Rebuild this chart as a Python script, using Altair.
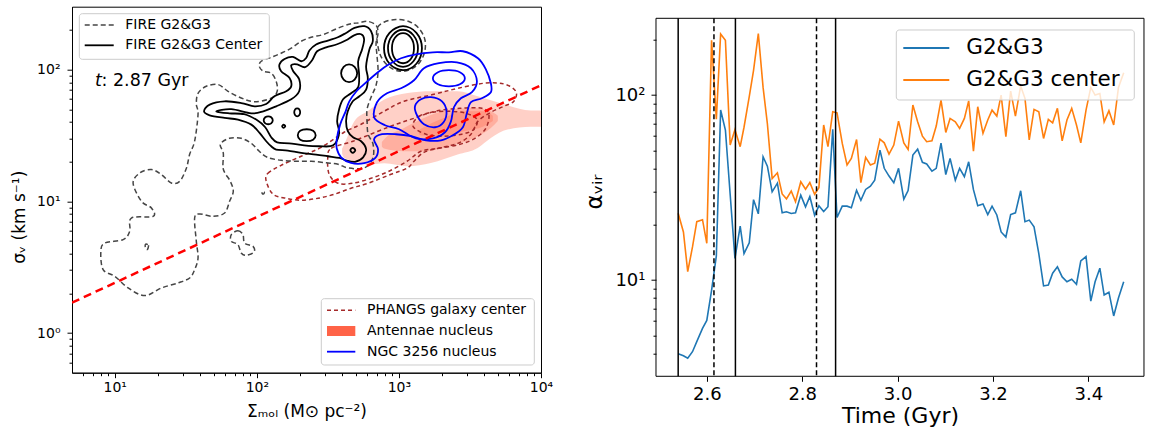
import altair as alt
import pandas as pd

FONT = "DejaVu Sans"

# ---------------------------------------------------------------------------
# Right panel: virial parameter of the merger as a function of time
# ---------------------------------------------------------------------------
TIME_GYR = [2.540, 2.551, 2.560, 2.570, 2.579, 2.591, 2.600, 2.610, 2.620, 2.629,
            2.639, 2.649, 2.659, 2.670, 2.678, 2.689, 2.698, 2.708, 2.718, 2.727,
            2.737, 2.748, 2.758, 2.767, 2.777, 2.786, 2.797, 2.807, 2.816, 2.826,
            2.835, 2.845, 2.854, 2.864, 2.873, 2.884, 2.894, 2.903, 2.914, 2.923,
            2.933, 2.943, 2.952, 2.963, 2.972, 2.982, 2.992, 3.002, 3.013, 3.022,
            3.032, 3.042, 3.052, 3.061, 3.072, 3.081, 3.091, 3.101, 3.110, 3.121,
            3.130, 3.140, 3.149, 3.159, 3.168, 3.179, 3.189, 3.198, 3.208, 3.217,
            3.227, 3.237, 3.247, 3.258, 3.267, 3.276, 3.286, 3.296, 3.306, 3.316,
            3.325, 3.335, 3.345, 3.355, 3.365, 3.375, 3.384, 3.395, 3.405, 3.414,
            3.424, 3.433, 3.443, 3.453, 3.463, 3.474]

ALPHA_ALL = [4.0, 3.9, 3.78, 4.1, 4.65, 5.48, 6.05, 8.8, 13.5, 83.0,
             64.7, 29.0, 13.1, 19.6, 13.9, 15.9, 27.2, 22.8, 46.4, 41.3,
             30.0, 33.4, 23.1, 23.4, 22.9, 23.1, 28.8, 24.9, 28.3, 22.4,
             25.2, 23.5, 24.9, 65.3, 21.8, 25.1, 25.1, 24.6, 30.6, 27.0,
             30.9, 32.2, 34.7, 50.4, 40.2, 36.5, 33.6, 40.2, 27.4, 30.5,
             47.4, 51.0, 43.3, 42.4, 38.8, 40.2, 55.0, 37.2, 45.5, 34.7,
             40.2, 36.2, 43.6, 30.8, 25.2, 25.8, 22.6, 25.1, 22.5, 18.2,
             17.1, 22.6, 23.1, 30.4, 20.7, 21.1, 19.4, 13.9, 9.3, 9.4,
             10.9, 11.8, 10.4, 9.8, 10.1, 9.5, 12.7, 13.4, 7.7, 9.8,
             11.6, 8.3, 8.6, 6.4, 8.0, 9.8]

ALPHA_CENTER = [23.0, 18.2, 11.1, 15.1, 20.7, 21.2, 15.8, 198, 74, 214,
                198, 53.7, 65, 52.6, 67, 98, 136, 215, 110, 70,
                35.4, 38, 29.2, 27.5, 30.3, 26.5, 34, 31, 33.7, 29.1,
                31.6, 68.9, 52.6, 81.2, 80.2, 54.8, 41.9, 45.5, 57.5, 33.6,
                46.1, 41.9, 42.8, 57.8, 55.2, 48, 53.7, 72.3, 55.2, 50.8,
                88.4, 71.7, 60, 56, 56.6, 68, 94, 62.8, 74.8, 71.7,
                66, 74.8, 93, 49.8, 86.5, 62.1, 73.3, 82.9, 77, 100,
                59.6, 105, 77, 112, 96, 57.2, 83.7, 81.2, 58.3, 73.9,
                70.8, 84.8, 56.6, 73.3, 84.8, 68.9, 55.2, 82.9, 110, 100,
                102, 71.7, 82.2, 68.9, 110, 132]

SERIES_NAMES = ["G2&G3", "G2&G3 center"]
SERIES_COLORS = ["#1f77b4", "#ff7f0e"]

SNAP_SOLID = [2.54, 2.66, 2.87]
SNAP_DASHED = [2.615, 2.83]

# ---------------------------------------------------------------------------
# Left panel: contours in (log10 Sigma_mol, log10 sigma_v)
# ---------------------------------------------------------------------------
FIRE_ALL = {
    "main": [(2.720, 2.354), (2.663, 2.348), (2.570, 2.314), (2.474, 2.268), (2.382, 2.245),
             (2.312, 2.215), (2.242, 2.162), (2.171, 2.124), (2.101, 2.093), (2.031, 2.063),
             (2.017, 2.025), (2.045, 1.987), (2.101, 1.972), (2.136, 1.911), (2.143, 1.835),
             (2.101, 1.782), (1.984, 1.756), (1.890, 1.784), (1.797, 1.835), (1.727, 1.886),
             (1.644, 1.873), (1.586, 1.820), (1.574, 1.737), (1.586, 1.661), (1.562, 1.456),
             (1.527, 1.357), (1.504, 1.251), (1.457, 1.152), (1.398, 1.139), (1.328, 1.203),
             (1.258, 1.241), (1.176, 1.215), (1.129, 1.137), (1.188, 1.000), (1.258, 0.949),
             (1.270, 0.886), (1.117, 0.873), (1.105, 0.772), (1.059, 0.709), (0.930, 0.683),
             (0.902, 0.620), (0.918, 0.481), (1.000, 0.431), (1.094, 0.342), (1.211, 0.284),
             (1.328, 0.342), (1.445, 0.380), (1.527, 0.418), (1.562, 0.481), (1.586, 0.570),
             (1.574, 0.696), (1.562, 0.873), (1.597, 0.904), (1.691, 0.886), (1.773, 0.911),
             (1.808, 1.000), (1.834, 1.076), (1.813, 1.152), (1.764, 1.243), (1.764, 1.364),
             (1.743, 1.433), (1.806, 1.478), (1.890, 1.478), (1.961, 1.440), (2.017, 1.380),
             (2.073, 1.334), (2.171, 1.311), (2.277, 1.304), (2.382, 1.304), (2.488, 1.292),
             (2.572, 1.281), (2.642, 1.253), (2.755, 1.253), (2.816, 1.327), (2.818, 1.433),
             (2.783, 1.509), (2.776, 1.607), (2.776, 1.699), (2.804, 1.790), (2.839, 1.881),
             (2.853, 1.987), (2.846, 2.101), (2.839, 2.200), (2.853, 2.276), (2.839, 2.336),
             (2.776, 2.367)],
    "blob": [(1.820, 0.747), (1.867, 0.777), (1.902, 0.747), (1.914, 0.683), (1.973, 0.658),
             (1.980, 0.615), (1.925, 0.590), (1.890, 0.607), (1.867, 0.671), (1.820, 0.696)],
    "speck": [(1.216, 0.673), (1.237, 0.666), (1.230, 0.635), (1.216, 0.643)],
    "speck2": [(2.038, 1.070), (2.052, 1.072), (2.050, 1.058), (2.040, 1.056)],
    "cap": [(2.845, 2.306), (2.894, 2.359), (2.979, 2.380), (3.070, 2.365), (3.140, 2.314),
            (3.182, 2.230), (3.182, 2.139), (3.147, 2.055), (3.084, 2.002), (3.007, 1.987),
            (2.936, 2.018), (2.880, 2.086), (2.852, 2.177)],
}

FIRE_CENTER = {
    "outer": [(1.628, 1.683), (1.668, 1.734), (1.773, 1.759), (1.890, 1.746), (1.984, 1.721),
              (2.066, 1.739), (2.124, 1.797), (2.207, 1.835), (2.242, 1.873), (2.230, 1.936),
              (2.171, 1.987), (2.159, 2.038), (2.195, 2.080), (2.254, 2.096), (2.312, 2.063),
              (2.347, 2.088), (2.370, 2.144), (2.417, 2.190), (2.500, 2.220), (2.570, 2.245),
              (2.628, 2.278), (2.687, 2.316), (2.757, 2.329), (2.804, 2.291), (2.816, 2.215),
              (2.792, 2.152), (2.769, 2.025), (2.781, 1.936), (2.769, 1.848), (2.722, 1.797),
              (2.675, 1.759), (2.640, 1.683), (2.628, 1.607), (2.640, 1.532), (2.677, 1.486),
              (2.734, 1.456), (2.769, 1.395), (2.748, 1.334), (2.691, 1.300), (2.628, 1.311),
              (2.581, 1.329), (2.499, 1.342), (2.417, 1.355), (2.312, 1.367), (2.218, 1.385),
              (2.136, 1.393), (2.101, 1.418), (2.066, 1.456), (2.019, 1.519), (1.961, 1.582),
              (1.867, 1.620), (1.773, 1.633), (1.668, 1.653)],
    "inner": [(1.715, 1.683), (1.820, 1.699), (1.961, 1.668), (2.045, 1.683), (2.136, 1.721),
              (2.242, 1.774), (2.298, 1.835), (2.298, 1.926), (2.256, 1.987), (2.242, 2.033),
              (2.284, 2.040), (2.340, 2.018), (2.389, 2.071), (2.424, 2.139), (2.488, 2.169),
              (2.565, 2.192), (2.628, 2.222), (2.684, 2.260), (2.734, 2.268), (2.755, 2.230),
              (2.741, 2.154), (2.713, 2.063), (2.720, 1.957), (2.713, 1.866), (2.663, 1.820),
              (2.607, 1.774), (2.579, 1.699), (2.565, 1.607), (2.579, 1.516), (2.537, 1.425),
              (2.438, 1.418), (2.333, 1.425), (2.228, 1.440), (2.143, 1.448), (2.101, 1.486),
              (2.059, 1.562), (2.003, 1.615), (1.911, 1.661), (1.806, 1.668)],
    "isle1": [(2.048, 1.615), (2.059, 1.638), (2.080, 1.645), (2.101, 1.638), (2.112, 1.615),
              (2.101, 1.592), (2.080, 1.585), (2.059, 1.592)],
    "isle2": [(2.263, 1.676), (2.270, 1.699), (2.284, 1.706), (2.298, 1.699), (2.305, 1.676),
              (2.298, 1.653), (2.284, 1.645), (2.270, 1.653)],
    "isle3": [(2.288, 1.501), (2.305, 1.535), (2.351, 1.547), (2.396, 1.535), (2.414, 1.501),
              (2.396, 1.467), (2.351, 1.456), (2.305, 1.467)],
    "isle4": [(2.593, 1.972), (2.611, 2.021), (2.649, 2.040), (2.688, 2.021), (2.706, 1.972),
              (2.688, 1.923), (2.649, 1.904), (2.611, 1.923)],
    "dot": [(2.178, 1.570), (2.188, 1.581), (2.200, 1.570), (2.188, 1.558)],
    "core": [(2.658, 1.387), (2.675, 1.406), (2.693, 1.387), (2.675, 1.368)],
    "peak1": [(2.895, 2.162), (2.934, 2.279), (3.029, 2.329), (3.123, 2.279), (3.162, 2.162),
              (3.123, 2.044), (3.029, 1.995), (2.934, 2.044)],
    "peak2": [(2.923, 2.162), (2.955, 2.260), (3.029, 2.302), (3.102, 2.260), (3.134, 2.162),
              (3.102, 2.063), (3.029, 2.021), (2.955, 2.063)],
    "peak3": [(2.951, 2.162), (2.972, 2.241), (3.029, 2.276), (3.085, 2.241), (3.106, 2.162),
              (3.085, 2.082), (3.029, 2.048), (2.972, 2.082)],
}

NGC3256 = {
    "outer": [(2.562, 1.469), (2.586, 1.582), (2.625, 1.683), (2.651, 1.759), (2.701, 1.835),
              (2.751, 1.886), (2.852, 1.980), (2.930, 2.040), (3.015, 2.086), (3.120, 2.116),
              (3.239, 2.131), (3.352, 2.131), (3.450, 2.139), (3.556, 2.086), (3.612, 2.002),
              (3.647, 1.896), (3.647, 1.828), (3.584, 1.782), (3.507, 1.752), (3.478, 1.668),
              (3.450, 1.562), (3.380, 1.501), (3.296, 1.463), (3.190, 1.463), (3.085, 1.494),
              (2.980, 1.509), (2.881, 1.509), (2.825, 1.471), (2.853, 1.395), (2.832, 1.327),
              (2.755, 1.289), (2.663, 1.291), (2.593, 1.334), (2.562, 1.402)],
    "middle": [(2.825, 1.638), (2.846, 1.752), (2.916, 1.820), (3.015, 1.858), (3.106, 1.919),
               (3.176, 2.010), (3.282, 2.048), (3.408, 2.055), (3.507, 2.010), (3.549, 1.911),
               (3.514, 1.828), (3.436, 1.782), (3.387, 1.714), (3.366, 1.607), (3.324, 1.524),
               (3.239, 1.478), (3.120, 1.478), (3.001, 1.547), (2.902, 1.577)],
    "upper": [(3.239, 1.934), (3.275, 1.980), (3.352, 1.995), (3.429, 1.980), (3.464, 1.934),
              (3.429, 1.888), (3.352, 1.873), (3.275, 1.888)],
    "lower": [(3.113, 1.721), (3.155, 1.774), (3.226, 1.790), (3.303, 1.759), (3.335, 1.683),
              (3.314, 1.600), (3.254, 1.562), (3.176, 1.585), (3.127, 1.653)],
}

PHANGS = {
    "outer": [(2.066, 1.152), (2.078, 1.213), (2.171, 1.273), (2.312, 1.342), (2.453, 1.410),
              (2.614, 1.524), (2.734, 1.585), (2.895, 1.683), (3.036, 1.759), (3.247, 1.812),
              (3.415, 1.858), (3.598, 1.896), (3.738, 1.891), (3.823, 1.835), (3.809, 1.759),
              (3.738, 1.721), (3.647, 1.676), (3.556, 1.607), (3.507, 1.509), (3.415, 1.440),
              (3.275, 1.402), (3.176, 1.372), (3.106, 1.304), (3.057, 1.251), (2.944, 1.205),
              (2.783, 1.137), (2.663, 1.099), (2.544, 1.053), (2.431, 1.023), (2.312, 1.008),
              (2.207, 1.023), (2.115, 1.053)],
    "middle": [(2.499, 1.329), (2.523, 1.402), (2.677, 1.456), (2.853, 1.532), (2.980, 1.585),
               (3.106, 1.630), (3.254, 1.683), (3.429, 1.706), (3.584, 1.706), (3.633, 1.661),
               (3.612, 1.554), (3.535, 1.478), (3.429, 1.433), (3.282, 1.402), (3.155, 1.380),
               (3.057, 1.304), (2.930, 1.228), (2.804, 1.175), (2.677, 1.137), (2.572, 1.137),
               (2.509, 1.205)],
    "inner": [(3.099, 1.570), (3.141, 1.645), (3.239, 1.676), (3.366, 1.683), (3.471, 1.668),
              (3.549, 1.623), (3.528, 1.547), (3.443, 1.509), (3.317, 1.494), (3.190, 1.509)],
}

# Antennae nucleus filled levels: (log10 Sigma_mol, lower log10 sigma_v, upper log10 sigma_v)
ANTENNAE = {
    "level1": [(2.600, 1.360, 1.400), (2.614, 1.330, 1.430), (2.686, 1.304, 1.607),
               (2.780, 1.279, 1.683), (2.897, 1.289, 1.772), (3.062, 1.266, 1.822),
               (3.225, 1.291, 1.835), (3.413, 1.355, 1.835), (3.554, 1.405, 1.797),
               (3.647, 1.481, 1.767), (3.764, 1.545, 1.729), (3.928, 1.565, 1.690),
               (4.040, 1.565, 1.690)],
    "level2": [(2.880, 1.415, 1.450), (2.895, 1.400, 1.470), (3.036, 1.380, 1.557),
               (3.176, 1.380, 1.633), (3.366, 1.425, 1.696), (3.528, 1.481, 1.709),
               (3.647, 1.557, 1.683), (3.696, 1.610, 1.650)],
    "level3": [(3.140, 1.510, 1.540), (3.155, 1.500, 1.550), (3.317, 1.494, 1.633),
               (3.457, 1.532, 1.683), (3.598, 1.570, 1.683), (3.661, 1.610, 1.650)],
}

# dispersion-surface density reference relation
REF_SIGMA_MOL = [5, 10000]
REF_SIGMA_V = [1.70, 76.0]

X_TICKS = [6, 7, 8, 9, 10, 20, 30, 40, 50, 60, 70, 80, 90, 100, 200, 300, 400, 500, 600,
           700, 800, 900, 1000, 2000, 3000, 4000, 5000, 6000, 7000, 8000, 9000, 10000]
Y_TICKS = [0.6, 0.7, 0.8, 0.9, 1, 2, 3, 4, 5, 6, 7, 8, 9, 10, 20, 30, 40, 50, 60, 70, 80, 90,
           100, 200]
YR_TICKS = [4, 5, 6, 7, 8, 9, 10, 20, 30, 40, 50, 60, 70, 80, 90, 100, 200]
XR_TICKS = [2.6, 2.8, 3.0, 3.2, 3.4]


def contour_frame(shapes):
    rows = []
    for name, pts in shapes.items():
        for i, (lx, ly) in enumerate(pts):
            rows.append({"shape": name, "idx": i, "S": 10 ** lx, "v": 10 ** ly})
    return pd.DataFrame(rows)


def band_frame(shapes):
    rows = []
    for name, pts in shapes.items():
        for lx, lo, hi in pts:
            rows.append({"shape": name, "S": 10 ** lx, "v": 10 ** lo, "hi": 10 ** hi})
    return pd.DataFrame(rows)


def major_test(values):
    return "indexof([" + ",".join(str(v) for v in values) + "], datum.value) >= 0"


def sup_label(pairs):
    expr = ""
    for val, txt in pairs:
        expr += f"datum.value == {val} ? '{txt}' : "
    return expr + "''"


xs_left = alt.Scale(type="log", domain=[5, 10000], nice=False)
ys_left = alt.Scale(type="log", domain=[0.5, 300], nice=False)

common_axis = dict(grid=False, labelOverlap=False, labelFlush=False, labelBound=False,
                   domainColor="black", tickColor="black", labelColor="black",
                   titleColor="black", titleFontWeight="normal", labelFont=FONT,
                   titleFont=FONT, tickWidth=1)

x_axis_left = alt.Axis(
    values=X_TICKS, title="Σₘₒₗ (M⊙ pc⁻²)", titleFontSize=17, labelFontSize=14,
    labelPadding=3, titlePadding=9,
    labelExpr=sup_label([(10, "10¹"), (100, "10²"), (1000, "10³"), (10000, "10⁴")]),
    tickSize={"condition": {"test": major_test([10, 100, 1000, 10000]), "value": 5}, "value": 3},
    **common_axis)
y_axis_left = alt.Axis(
    values=Y_TICKS, title="σᵥ (km s⁻¹)", titleFontSize=17, labelFontSize=14,
    labelPadding=7, titlePadding=8, titleY=210,
    labelExpr=sup_label([(1, "10⁰"), (10, "10¹"), (100, "10²")]),
    tickSize={"condition": {"test": major_test([1, 10, 100]), "value": 5}, "value": 3},
    **common_axis)

X_LEFT = alt.X("S:Q", scale=xs_left, axis=x_axis_left)
Y_LEFT = alt.Y("v:Q", scale=ys_left, axis=y_axis_left)

fills = alt.Chart(band_frame(ANTENNAE)).mark_area(
    color="tomato", opacity=0.3, interpolate="monotone", clip=True
).encode(x=X_LEFT, y=Y_LEFT, y2="hi:Q", detail="shape:N")


def contour_layer(shapes, color, width, dash=None):
    kw = dict(color=color, strokeWidth=width, interpolate="cardinal-closed", clip=True)
    if dash:
        kw["strokeDash"] = dash
    return alt.Chart(contour_frame(shapes)).mark_line(**kw).encode(
        x=X_LEFT, y=Y_LEFT, detail="shape:N", order="idx:Q")


phangs = contour_layer(PHANGS, "#a52a2a", 1.5, [4, 3])
fire_all = contour_layer(FIRE_ALL, "#454545", 1.5, [5, 3])
fire_cen = contour_layer(FIRE_CENTER, "black", 1.8)
ngc = contour_layer(NGC3256, "#0000ff", 1.8)

ref_line = alt.Chart(pd.DataFrame({"S": REF_SIGMA_MOL, "v": REF_SIGMA_V})).mark_line(
    color="red", strokeWidth=2.5, strokeDash=[8, 5], clip=True
).encode(x=X_LEFT, y=Y_LEFT)

ONE = pd.DataFrame({"k": [0]})


def hline(x1, x2, y, color, width, dash=None):
    kw = dict(color=color, strokeWidth=width)
    if dash:
        kw["strokeDash"] = dash
    return alt.Chart(ONE).mark_rule(**kw).encode(
        x=alt.value(x1), x2=alt.value(x2), y=alt.value(y))


def label(x, y, text, size, **kw):
    return alt.Chart(ONE).mark_text(
        text=text, align="left", baseline="middle", fontSize=size, font=FONT,
        color="black", **kw
    ).encode(x=alt.value(x), y=alt.value(y))


def box(x1, x2, y1, y2):
    return alt.Chart(ONE).mark_rect(
        fill="white", fillOpacity=0.8, stroke="#cccccc", strokeWidth=1, cornerRadius=3
    ).encode(x=alt.value(x1), x2=alt.value(x2), y=alt.value(y1), y2=alt.value(y2))


def patch(x1, x2, y1, y2, color):
    return alt.Chart(ONE).mark_rect(fill=color).encode(
        x=alt.value(x1), x2=alt.value(x2), y=alt.value(y1), y2=alt.value(y2))


time_tag = [
    label(23, 74, "t", 17.5, fontStyle="italic"),
    label(29.5, 74, ": 2.87 Gyr", 17.5),
]

legend_fire = [
    box(7.3, 197.3, 7, 52.6),
    hline(12.7, 41.7, 18.3, "#454545", 1.5, [5, 3]),
    label(53.3, 18.3, "FIRE G2&G3", 14),
    hline(12.7, 41.7, 38.6, "black", 1.8),
    label(53.3, 38.6, "FIRE G2&G3 Center", 14),
]

legend_obs = [
    box(249.3, 462.3, 292, 358.3),
    hline(255, 283.3, 303.6, "#a52a2a", 1.5, [4, 3]),
    label(295, 303.6, "PHANGS galaxy center", 14),
    patch(255, 283.3, 319.3, 329.3, "tomato"),
    label(295, 324.3, "Antennae nucleus", 14),
    hline(255, 283.3, 345, "#0000ff", 1.8),
    label(295, 345, "NGC 3256 nucleus", 14),
]

left = alt.layer(
    fills, phangs, fire_all, fire_cen, ngc, ref_line, *time_tag, *legend_fire, *legend_obs
).properties(width=469, height=366)

# ---------------------------------------------------------------------------
# Right panel (its frame starts a little lower than the left panel's)
# ---------------------------------------------------------------------------
R_W, R_H, R_TOP = 488, 369.6, 11.6

n = len(TIME_GYR)
series_df = pd.DataFrame({
    "t": TIME_GYR + TIME_GYR,
    "alpha": ALPHA_ALL + ALPHA_CENTER,
    "series": [SERIES_NAMES[0]] * n + [SERIES_NAMES[1]] * n,
})

xs_right = alt.Scale(domain=[2.4935, 3.5165], nice=False, zero=False)
ys_right = alt.Scale(type="log", domain=[3.02, 300.4], nice=False)

x_axis_right = alt.Axis(
    values=XR_TICKS, format=".1f", title="Time (Gyr)", titleFontSize=22, labelFontSize=18,
    labelPadding=4, titlePadding=2, tickSize=5, domain=False, **common_axis)
y_axis_right = alt.Axis(
    values=YR_TICKS, title="αᵥᵢᵣ", titleFontSize=23, labelFontSize=18,
    labelPadding=6, titlePadding=8.7, domain=False,
    labelExpr=sup_label([(10, "10¹"), (100, "10²")]),
    tickSize={"condition": {"test": major_test([10, 100]), "value": 5}, "value": 3},
    **common_axis)

X_RIGHT = alt.X("t:Q", scale=xs_right, axis=x_axis_right)

series = alt.Chart(series_df).mark_line(strokeWidth=1.6, clip=True).encode(
    x=X_RIGHT,
    y=alt.Y("alpha:Q", scale=ys_right, axis=y_axis_right),
    color=alt.Color("series:N", scale=alt.Scale(domain=SERIES_NAMES, range=SERIES_COLORS),
                    legend=None),
)

v_solid = alt.Chart(pd.DataFrame({"t": SNAP_SOLID})).mark_rule(
    color="black", strokeWidth=1.5
).encode(x=X_RIGHT, y=alt.value(R_TOP), y2=alt.value(R_H))
v_dashed = alt.Chart(pd.DataFrame({"t": SNAP_DASHED})).mark_rule(
    color="black", strokeWidth=1.5, strokeDash=[5, 3]
).encode(x=X_RIGHT, y=alt.value(R_TOP), y2=alt.value(R_H))

frame = alt.Chart(ONE).mark_rect(
    fill="white", fillOpacity=0, stroke="black", strokeWidth=1
).encode(x=alt.value(0), x2=alt.value(R_W), y=alt.value(R_TOP), y2=alt.value(R_H))

legend_series = [
    box(240.3, 478.3, R_TOP + 11.7, R_TOP + 81.7),
    hline(247.3, 293.3, R_TOP + 29.7, SERIES_COLORS[0], 1.8),
    label(310.3, R_TOP + 29.7, SERIES_NAMES[0], 21.5),
    hline(247.3, 293.3, R_TOP + 61.7, SERIES_COLORS[1], 1.8),
    label(310.3, R_TOP + 61.7, SERIES_NAMES[1], 21.5),
]

right = alt.layer(series, v_solid, v_dashed, frame, *legend_series).properties(
    width=R_W, height=R_H,
    view=alt.ViewBackground(stroke="transparent"),
)

chart = alt.concat(left, right, columns=2, spacing=28).properties(
    padding={"left": 10, "top": 5.7, "right": 0, "bottom": 0},
    background="white",
).configure_view(stroke="black", strokeWidth=1)

chart.save("out.html", embed_options={"renderer": "svg", "actions": False})
